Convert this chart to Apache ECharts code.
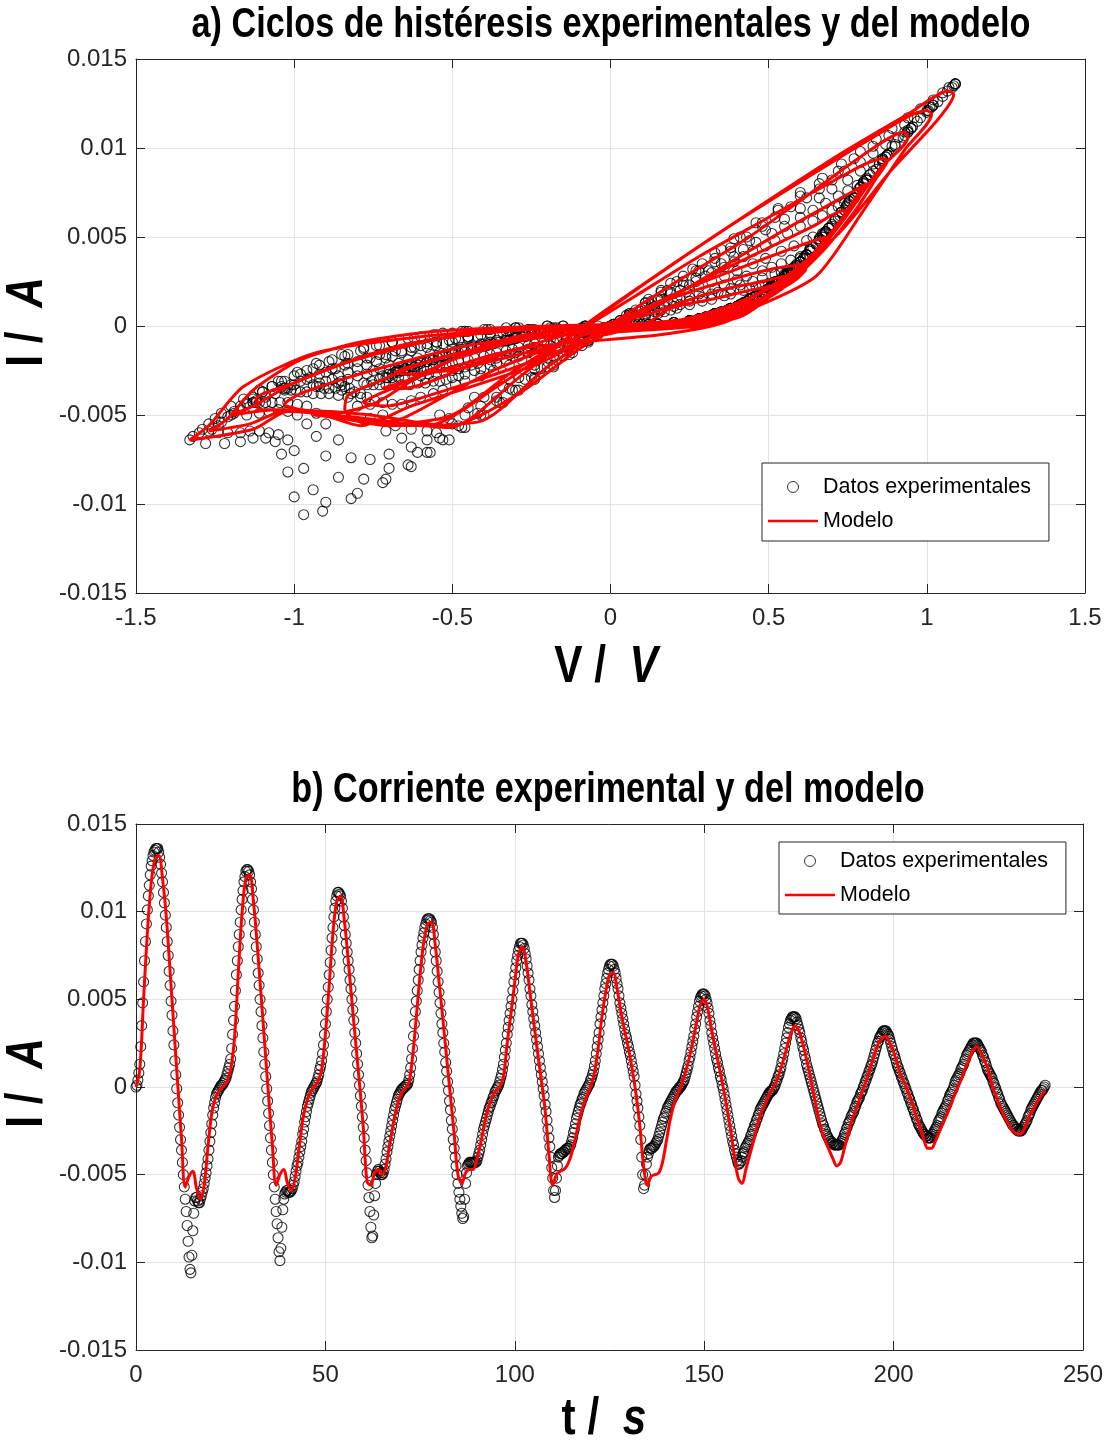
<!DOCTYPE html>
<html>
<head>
<meta charset="utf-8">
<script src="https://cdn.jsdelivr.net/npm/echarts@6/dist/echarts.min.js"></script>
<style>
  html, body { margin: 0; padding: 0; background: #fff; }
  #chart { width: 1110px; height: 1442px; }
</style>
</head>
<body>
<div id="chart"></div>
<script>
// sampling of the recorded data (s)
const expStep = 0.25;
const modelStep = 1;

// applied voltage V at every experimental sample (t = 0, 0.25, ... 240 s)
const vExp = [
  0, .15, .28, .35, .42, .51, .59, .66, .71, .77, .81, .86, .89, .94, .97, 1.005, 1.035, 1.05, 1.065, 1.08, 1.085, 1.09, 1.09, 1.09,
  1.07, 1.05, 1.02, .98, .94, .89, .84, .79, .73, .67, .60, .53, .46, .39, .33, .26, .19, .12, .06, -.01, -.07, -.13, -.18, -.24,
  -.29, -.34, -.40, -.46, -.51, -.57, -.63, -.72, -.82, -.91, -.97, -1.00, -1.02, -1.04, -1.06, -1.09, -1.13, -1.17, -1.22, -1.28, -1.33, -1.32, -1.30, -1.29,
  -1.27, -1.25, -1.23, -1.20, -1.16, -1.11, -1.05, -.99, -.93, -.85, -.78, -.69, -.60, -.53, -.47, -.38, -.29, -.15, .12, .15, .20, .25, .28, .30,
  .33, .37, .40, .42, .45, .51, .56, .60, .65, .69, .73, .77, .80, .83, .86, .90, .93, .955, .98, 1.00, 1.015, 1.02, 1.02, 1.01,
  1.00, .96, .93, .88, .83, .77, .72, .66, .60, .53, .48, .41, .35, .29, .23, .16, .11, .05, -.01, -.07, -.12, -.18, -.24, -.30,
  -.35, -.41, -.47, -.53, -.58, -.64, -.71, -.80, -.90, -.94, -.97, -1.00, -1.02, -1.05, -1.08, -1.11, -1.14, -1.17, -1.21, -1.24, -1.27, -1.26, -1.24, -1.23,
  -1.21, -1.19, -1.17, -1.15, -1.13, -1.10, -1.07, -1.03, -.98, -.94, -.89, -.84, -.79, -.73, -.69, -.62, -.55, -.46, -.39, -.30, -.20, .15, .20, .25,
  .30, .33, .38, .41, .44, .48, .52, .56, .60, .63, .67, .70, .73, .76, .79, .82, .85, .88, .90, .925, .94, .95, .95, .94,
  .93, .91, .87, .83, .79, .74, .70, .66, .62, .57, .52, .48, .43, .38, .33, .27, .21, .16, .11, .06, .01, -.04, -.09, -.15,
  -.20, -.25, -.31, -.36, -.42, -.48, -.54, -.61, -.70, -.78, -.86, -.90, -.93, -.96, -.99, -1.02, -1.05, -1.08, -1.11, -1.15, -1.20, -1.19, -1.17, -1.15,
  -1.13, -1.10, -1.07, -1.04, -1.00, -.96, -.92, -.88, -.83, -.78, -.74, -.69, -.64, -.56, -.50, -.45, -.40, -.33, -.30, -.20, -.15, .08, .12, .20,
  .28, .33, .40, .45, .51, .55, .60, .63, .66, .69, .72, .745, .77, .785, .80, .82, .84, .85, .86, .87, .875, .875, .875, .87,
  .86, .83, .79, .75, .70, .66, .60, .55, .49, .44, .38, .33, .28, .23, .18, .13, .08, .03, -.02, -.07, -.12, -.17, -.22, -.27,
  -.32, -.36, -.41, -.46, -.50, -.55, -.58, -.63, -.70, -.76, -.82, -.86, -.90, -.93, -.96, -.99, -1.02, -1.045, -1.07, -1.09, -1.11, -1.12, -1.13, -1.13,
  -1.12, -1.09, -1.06, -1.03, -1.00, -.96, -.92, -.88, -.84, -.80, -.76, -.71, -.66, -.62, -.60, -.55, -.51, -.45, -.41, -.33, -.26, -.18, -.08, .15,
  .25, .30, .33, .38, .42, .46, .50, .53, .56, .585, .61, .63, .65, .67, .69, .71, .73, .75, .77, .78, .79, .80, .81, .81,
  .81, .80, .78, .75, .72, .68, .64, .60, .55, .51, .46, .42, .39, .35, .31, .27, .23, .19, .15, .11, .07, .03, -.01, -.05,
  -.10, -.14, -.19, -.24, -.29, -.34, -.40, -.45, -.51, -.58, -.66, -.71, -.76, -.80, -.83, -.86, -.89, -.915, -.94, -.96, -.98, -.995, -1.01, -1.02,
  -1.03, -1.035, -1.04, -1.01, -.98, -.95, -.90, -.87, -.83, -.77, -.73, -.68, -.63, -.58, -.55, -.49, -.45, -.38, -.32, -.26, -.19, -.08, .10, .20,
  .28, .30, .33, .37, .41, .44, .48, .51, .54, .57, .60, .62, .64, .66, .68, .70, .71, .725, .74, .745, .75, .755, .755, .755,
  .74, .72, .70, .67, .64, .60, .56, .52, .49, .45, .42, .39, .36, .32, .30, .27, .25, .22, .19, .16, .13, .10, .06, .01,
  -.04, -.09, -.13, -.18, -.24, -.32, -.43, -.54, -.63, -.68, -.72, -.76, -.79, -.82, -.85, -.87, -.89, -.905, -.92, -.93, -.94, -.92, -.90, -.88,
  -.86, -.83, -.80, -.77, -.74, -.71, -.69, -.66, -.63, -.58, -.55, -.53, -.50, -.48, -.45, -.42, -.38, -.34, -.30, -.25, -.24, -.17, -.08, -.04,
  .15, .20, .25, .28, .32, .35, .38, .41, .44, .46, .49, .51, .54, .56, .58, .60, .62, .635, .65, .66, .67, .675, .68, .68,
  .68, .67, .64, .62, .58, .54, .49, .45, .40, .36, .32, .28, .24, .21, .18, .14, .12, .08, .05, .01, -.01, -.06, -.10, -.15,
  -.19, -.24, -.28, -.32, -.37, -.41, -.46, -.49, -.53, -.56, -.60, -.63, -.66, -.69, -.72, -.745, -.77, -.79, -.81, -.825, -.84, -.85, -.86, -.85,
  -.83, -.80, -.77, -.75, -.73, -.70, -.67, -.64, -.61, -.57, -.54, -.50, -.47, -.44, -.41, -.38, -.36, -.33, -.30, -.27, -.24, -.21, -.19, -.17,
  -.14, -.08, .00, .15, .25, .28, .32, .34, .37, .40, .43, .45, .48, .51, .53, .55, .57, .59, .60, .61, .615, .62, .62, .62,
  .62, .60, .57, .54, .51, .48, .43, .40, .36, .33, .28, .25, .20, .17, .14, .11, .08, .05, .02, -.02, -.05, -.09, -.12, -.16,
  -.19, -.22, -.26, -.29, -.33, -.36, -.38, -.41, -.43, -.46, -.48, -.50, -.52, -.54, -.56, -.585, -.61, -.635, -.66, -.685, -.71, -.73, -.75, -.77,
  -.78, -.755, -.73, -.71, -.69, -.67, -.65, -.62, -.60, -.58, -.56, -.53, -.50, -.48, -.46, -.42, -.39, -.35, -.32, -.30, -.27, -.22, -.17, -.12,
  .05, .15, .25, .28, .32, .34, .37, .38, .41, .42, .44, .46, .48, .50, .51, .53, .54, .55, .555, .565, .57, .575, .575, .575,
  .575, .56, .54, .52, .48, .45, .41, .38, .34, .32, .29, .25, .22, .20, .16, .14, .11, .09, .05, .04, .00, -.02, -.06, -.08,
  -.12, -.14, -.18, -.20, -.24, -.26, -.30, -.32, -.36, -.38, -.42, -.44, -.46, -.48, -.50, -.525, -.55, -.575, -.60, -.625, -.65, -.67, -.69, -.705,
  -.72, -.70, -.68, -.665, -.65, -.63, -.61, -.58, -.56, -.545, -.53, -.49, -.46, -.44, -.42, -.395, -.37, -.33, -.30, -.25, -.21, -.18, -.14, -.09,
  .15, .25, .28, .30, .32, .33, .35, .38, .40, .41, .42, .44, .45, .47, .48, .49, .50, .505, .51, .515, .52, .525, .525, .525,
  .525, .50, .48, .46, .44, .42, .38, .36, .32, .29, .25, .21, .19, .17, .15, .13, .11, .06, .04, .00, -.02, -.07, -.10, -.14,
  -.17, -.21, -.24, -.26, -.29, -.31, -.33, -.36, -.38, -.40, -.43, -.45, -.48, -.50, -.52, -.54, -.56, -.58, -.60, -.62, -.64, -.655, -.67, -.675,
  -.68, -.655, -.63, -.615, -.60, -.57, -.54, -.52, -.50, -.47, -.44, -.415, -.39, -.36, -.33, -.305, -.28, -.25, -.22, -.18, -.14, -.12, -.09, .00,
  .15
];

// measured current I (A) at the same samples
const iExp = [
  0, .0001, .0004, .0008, .0013, .0023, .0035, .0048, .0060, .0072, .0083, .0093, .0101, .0109, .0115, .0121, .0126, .0129, .0132, .0134, .0135, .0136, .0136, .0136,
  .0134, .0131, .0127, .0122, .0117, .0111, .0105, .0098, .0091, .0083, .0075, .0066, .0058, .0049, .0041, .0032, .0024, .0015, .0007, -.0001, -.0009, -.0016, -.0023, -.0030,
  -.0036, -.0043, -.0050, -.0057, -.0064, -.0071, -.0079, -.0088, -.0097, -.0104, -.0106, -.0096, -.0082, -.0072, -.0065, -.0063, -.0063, -.0065, -.0066, -.0066, -.0064, -.0062, -.0060, -.0058,
  -.0055, -.0052, -.0049, -.0045, -.0041, -.0036, -.0031, -.0026, -.0021, -.0016, -.0012, -.0009, -.0006, -.0004, -.0003, -.0002, -.0001, 0, .0001, .0001, .0002, .0003, .0004, .0005,
  .0007, .0009, .0011, .0013, .0016, .0022, .0030, .0038, .0046, .0055, .0064, .0072, .0080, .0087, .0094, .0101, .0107, .0112, .0117, .0120, .0123, .0124, .0124, .0123,
  .0121, .0117, .0113, .0107, .0101, .0094, .0087, .0080, .0073, .0065, .0058, .0050, .0043, .0035, .0028, .0020, .0013, .0006, -.0001, -.0008, -.0015, -.0022, -.0029, -.0036,
  -.0043, -.0050, -.0057, -.0064, -.0071, -.0078, -.0086, -.0094, -.0099, -.0092, -.0080, -.0070, -.0064, -.0061, -.0060, -.0059, -.0059, -.0060, -.0060, -.0060, -.0059, -.0058, -.0056, -.0054,
  -.0051, -.0048, -.0045, -.0043, -.0040, -.0037, -.0034, -.0031, -.0027, -.0024, -.0020, -.0017, -.0014, -.0011, -.0009, -.0007, -.0005, -.0003, -.0002, -.0001, 0, .0001, .0002, .0003,
  .0005, .0007, .0010, .0012, .0015, .0019, .0024, .0030, .0036, .0043, .0050, .0057, .0064, .0071, .0078, .0085, .0091, .0097, .0102, .0106, .0109, .0111, .0111, .0110,
  .0109, .0106, .0102, .0097, .0092, .0087, .0082, .0077, .0072, .0067, .0061, .0056, .0050, .0044, .0038, .0031, .0025, .0019, .0013, .0007, .0001, -.0005, -.0011, -.0017,
  -.0023, -.0029, -.0036, -.0042, -.0049, -.0056, -.0063, -.0071, -.0080, -.0086, -.0085, -.0073, -.0062, -.0055, -.0050, -.0048, -.0047, -.0048, -.0049, -.0050, -.0050, -.0049, -.0047, -.0044,
  -.0041, -.0037, -.0034, -.0031, -.0028, -.0025, -.0022, -.0019, -.0016, -.0013, -.0011, -.0009, -.0007, -.0005, -.0004, -.0003, -.0002, -.0001, -.0001, 0, 0, .0001, .0001, .0002,
  .0004, .0007, .0011, .0016, .0022, .0029, .0036, .0043, .0049, .0055, .0061, .0067, .0072, .0077, .0081, .0085, .0088, .0091, .0093, .0095, .0096, .0096, .0096, .0095,
  .0094, .0091, .0087, .0082, .0077, .0072, .0066, .0060, .0054, .0048, .0042, .0036, .0031, .0025, .0020, .0014, .0009, .0003, -.0002, -.0008, -.0013, -.0019, -.0024, -.0030,
  -.0035, -.0040, -.0045, -.0050, -.0055, -.0060, -.0064, -.0068, -.0072, -.0075, -.0074, -.0064, -.0055, -.0049, -.0045, -.0044, -.0043, -.0043, -.0043, -.0043, -.0043, -.0043, -.0043, -.0043,
  -.0042, -.0040, -.0038, -.0036, -.0033, -.0030, -.0027, -.0024, -.0022, -.0020, -.0018, -.0016, -.0014, -.0012, -.0011, -.0009, -.0008, -.0006, -.0005, -.0003, -.0002, -.0001, 0, .0001,
  .0003, .0005, .0007, .0010, .0013, .0017, .0021, .0025, .0030, .0034, .0038, .0042, .0046, .0050, .0055, .0060, .0064, .0068, .0072, .0075, .0078, .0080, .0082, .0082,
  .0082, .0081, .0079, .0076, .0073, .0069, .0065, .0061, .0056, .0052, .0047, .0043, .0039, .0035, .0031, .0027, .0023, .0019, .0015, .0011, .0007, .0003, -.0001, -.0005,
  -.0010, -.0014, -.0019, -.0024, -.0029, -.0034, -.0040, -.0046, -.0052, -.0059, -.0063, -.0059, -.0052, -.0045, -.0040, -.0039, -.0038, -.0038, -.0038, -.0037, -.0037, -.0036, -.0036, -.0035,
  -.0035, -.0035, -.0034, -.0033, -.0031, -.0029, -.0026, -.0024, -.0021, -.0018, -.0016, -.0014, -.0012, -.0010, -.0009, -.0007, -.0006, -.0004, -.0003, -.0002, -.0001, 0, .0001, .0002,
  .0004, .0005, .0007, .0009, .0012, .0015, .0019, .0023, .0027, .0031, .0036, .0040, .0044, .0048, .0052, .0056, .0059, .0062, .0065, .0067, .0069, .0070, .0070, .0070,
  .0069, .0067, .0065, .0062, .0059, .0056, .0052, .0048, .0045, .0042, .0039, .0036, .0033, .0030, .0028, .0025, .0023, .0020, .0018, .0015, .0012, .0009, .0006, .0001,
  -.0004, -.0008, -.0012, -.0017, -.0022, -.0030, -.0040, -.0050, -.0058, -.0056, -.0050, -.0044, -.0040, -.0038, -.0036, -.0035, -.0035, -.0035, -.0034, -.0034, -.0033, -.0032, -.0031, -.0030,
  -.0028, -.0026, -.0024, -.0022, -.0020, -.0018, -.0017, -.0015, -.0014, -.0012, -.0011, -.0010, -.0009, -.0008, -.0007, -.0006, -.0005, -.0004, -.0003, -.0002, -.0002, -.0001, 0, 0,
  .0001, .0002, .0003, .0004, .0006, .0008, .0010, .0012, .0015, .0017, .0020, .0023, .0026, .0029, .0033, .0036, .0040, .0043, .0046, .0049, .0051, .0052, .0053, .0053,
  .0053, .0052, .0050, .0048, .0045, .0042, .0038, .0035, .0031, .0028, .0025, .0022, .0019, .0016, .0014, .0011, .0009, .0006, .0004, .0001, -.0001, -.0004, -.0007, -.0010,
  -.0013, -.0016, -.0019, -.0022, -.0025, -.0028, -.0031, -.0033, -.0036, -.0038, -.0040, -.0042, -.0044, -.0044, -.0043, -.0042, -.0040, -.0038, -.0037, -.0035, -.0034, -.0033, -.0032, -.0031,
  -.0030, -.0028, -.0027, -.0025, -.0024, -.0022, -.0021, -.0019, -.0018, -.0016, -.0015, -.0013, -.0012, -.0011, -.0010, -.0009, -.0008, -.0007, -.0006, -.0005, -.0004, -.0003, -.0003, -.0002,
  -.0002, -.0001, 0, .0001, .0003, .0004, .0006, .0007, .0009, .0011, .0014, .0016, .0019, .0022, .0025, .0028, .0031, .0034, .0036, .0038, .0039, .0040, .0040, .0040,
  .0040, .0039, .0037, .0035, .0033, .0031, .0028, .0026, .0023, .0021, .0018, .0016, .0013, .0011, .0009, .0007, .0005, .0003, .0001, -.0001, -.0003, -.0005, -.0007, -.0009,
  -.0011, -.0013, -.0015, -.0017, -.0019, -.0021, -.0022, -.0024, -.0025, -.0027, -.0028, -.0029, -.0030, -.0031, -.0031, -.0032, -.0032, -.0033, -.0033, -.0033, -.0033, -.0033, -.0033, -.0033,
  -.0032, -.0031, -.0030, -.0029, -.0027, -.0026, -.0024, -.0023, -.0021, -.0020, -.0019, -.0017, -.0016, -.0015, -.0014, -.0012, -.0011, -.0009, -.0008, -.0007, -.0006, -.0004, -.0003, -.0002,
  0, .0001, .0003, .0004, .0006, .0007, .0009, .0010, .0012, .0013, .0015, .0017, .0019, .0021, .0023, .0025, .0026, .0028, .0029, .0030, .0031, .0032, .0032, .0032,
  .0032, .0031, .0030, .0029, .0027, .0025, .0023, .0021, .0019, .0018, .0016, .0014, .0012, .0011, .0009, .0008, .0006, .0005, .0003, .0002, 0, -.0001, -.0003, -.0004,
  -.0006, -.0007, -.0009, -.0010, -.0012, -.0013, -.0015, -.0016, -.0018, -.0019, -.0021, -.0022, -.0023, -.0024, -.0025, -.0026, -.0027, -.0027, -.0028, -.0028, -.0029, -.0029, -.0029, -.0029,
  -.0028, -.0027, -.0026, -.0025, -.0024, -.0023, -.0022, -.0020, -.0019, -.0018, -.0017, -.0015, -.0014, -.0013, -.0012, -.0011, -.0010, -.0008, -.0007, -.0005, -.0004, -.0003, -.0002, -.0001,
  .0001, .0003, .0004, .0005, .0006, .0007, .0008, .0010, .0011, .0012, .0013, .0015, .0016, .0018, .0019, .0020, .0021, .0022, .0023, .0024, .0025, .0025, .0025, .0025,
  .0025, .0024, .0023, .0022, .0021, .0020, .0018, .0017, .0015, .0014, .0012, .0010, .0009, .0008, .0007, .0006, .0005, .0003, .0002, 0, -.0001, -.0003, -.0004, -.0006,
  -.0007, -.0009, -.0010, -.0011, -.0012, -.0013, -.0014, -.0015, -.0016, -.0017, -.0018, -.0019, -.0020, -.0021, -.0022, -.0022, -.0023, -.0024, -.0024, -.0025, -.0025, -.0025, -.0025, -.0025,
  -.0024, -.0023, -.0022, -.0021, -.0020, -.0019, -.0017, -.0016, -.0015, -.0013, -.0012, -.0011, -.0010, -.0009, -.0008, -.0007, -.0006, -.0005, -.0004, -.0003, -.0002, -.0002, -.0001, 0,
  .0001
];

// model current (A), one value per second (t = 0 ... 240 s)
const iModel = [
  0, .0010, .0050, .0088, .0116, .0130, .0132, .0119, .0097, .0066, .0034, .0002,
  -.0029, -.0057, -.0051, -.0048, -.0058, -.0064, -.0056, -.0034, -.0015, -.0006, -.0002, 0,
  .0003, .0010, .0028, .0065, .0099, .0119, .0121, .0106, .0081, .0053, .0024, -.0005,
  -.0033, -.0056, -.0050, -.0047, -.0055, -.0059, -.0052, -.0036, -.0019, -.0009, -.0003, 0,
  .0003, .0010, .0030, .0058, .0088, .0106, .0109, .0095, .0073, .0049, .0025, .0002,
  -.0023, -.0054, -.0056, -.0049, -.0047, -.0050, -.0045, -.0032, -.0020, -.0010, -.0004, -.0001,
  .0002, .0017, .0040, .0064, .0083, .0093, .0094, .0081, .0060, .0039, .0017, -.0005,
  -.0027, -.0050, -.0055, -.0049, -.0047, -.0047, -.0041, -.0032, -.0021, -.0012, -.0006, -.0002,
  0, .0006, .0025, .0042, .0060, .0076, .0080, .0071, .0054, .0037, .0020, .0004,
  -.0013, -.0038, -.0056, -.0050, -.0048, -.0047, -.0044, -.0038, -.0029, -.0019, -.0011, -.0005,
  0, .0008, .0022, .0040, .0054, .0064, .0065, .0056, .0043, .0032, .0022, .0010,
  -.0004, -.0022, -.0045, -.0056, -.0051, -.0050, -.0049, -.0043, -.0031, -.0019, -.0010, -.0004,
  .0001, .0008, .0016, .0026, .0037, .0047, .0050, .0044, .0032, .0021, .0011, 0,
  -.0012, -.0025, -.0040, -.0052, -.0055, -.0047, -.0039, -.0031, -.0022, -.0015, -.0010, -.0005,
  -.0001, .0003, .0009, .0016, .0024, .0031, .0035, .0032, .0025, .0016, .0006, -.0005,
  -.0016, -.0025, -.0031, -.0036, -.0041, -.0045, -.0043, -.0035, -.0027, -.0019, -.0013, -.0007,
  -.0001, .0005, .0012, .0019, .0025, .0028, .0029, .0025, .0020, .0013, .0006, .0002,
  -.0004, -.0010, -.0017, -.0023, -.0030, -.0035, -.0035, -.0031, -.0026, -.0021, -.0016, -.0011,
  -.0005, 0, .0005, .0011, .0016, .0021, .0023, .0020, .0015, .0010, .0001, -.0005,
  -.0011, -.0016, -.0020, -.0024, -.0026, -.0027, -.0026, -.0021, -.0016, -.0012, -.0008, -.0005,
  -.0002
];

// axis ranges and tick spacing
const vAxis = { min: -1.5, max: 1.5, interval: 0.5 };
const tAxis = { min: 0, max: 250, interval: 50 };
const iAxis = { min: -0.015, max: 0.015, interval: 0.005 };

const titleA = 'a) Ciclos de histéresis experimentales y del modelo';
const titleB = 'b) Corriente experimental y del modelo';
const expName = 'Datos experimentales';
const modelName = 'Modelo';

// pairs for the two panels
const expIV = vExp.map((v, k) => [v, iExp[k]]);
const modelIV = iModel.map((c, k) => [vExp[Math.round(k * modelStep / expStep)], c]);
const expIT = iExp.map((c, k) => [k * expStep, c]);
const modelIT = iModel.map((c, k) => [k * modelStep, c]);

const FONT = '"Liberation Sans", Arial, Helvetica, sans-serif';
const AX = '#262626';

function fmt(v) {
  return String(+v.toFixed(3));
}

function xAxes(grid, range) {
  const base = {
    type: 'value', gridIndex: grid, min: range.min, max: range.max, interval: range.interval,
    axisLine: { show: true, onZero: false, lineStyle: { color: AX, width: 1 } },
    axisTick: { show: true, inside: true, length: 9, lineStyle: { color: AX, width: 1 } }
  };
  return [
    Object.assign({}, base, {
      position: 'bottom',
      axisLabel: { fontFamily: FONT, fontSize: 24, color: AX, margin: 13, formatter: fmt },
      splitLine: { show: true, lineStyle: { color: '#e3e3e3', width: 1 } }
    }),
    Object.assign({}, base, {
      position: 'top', axisLabel: { show: false }, splitLine: { show: false }
    })
  ];
}

function yAxes(grid, range) {
  const base = {
    type: 'value', gridIndex: grid, min: range.min, max: range.max, interval: range.interval,
    axisLine: { show: true, onZero: false, lineStyle: { color: AX, width: 1 } },
    axisTick: { show: true, inside: true, length: 9, lineStyle: { color: AX, width: 1 } }
  };
  return [
    Object.assign({}, base, {
      position: 'left',
      axisLabel: { fontFamily: FONT, fontSize: 24, color: AX, margin: 9, formatter: fmt },
      splitLine: { show: true, lineStyle: { color: '#e3e3e3', width: 1 } }
    }),
    Object.assign({}, base, {
      position: 'right', axisLabel: { show: false }, splitLine: { show: false }
    })
  ];
}

function legendAt(left, top, padding) {
  return {
    left: left, top: top, orient: 'vertical',
    backgroundColor: '#fff', borderColor: AX, borderWidth: 1,
    padding: padding, itemGap: 12, itemWidth: 50, itemHeight: 11,
    textStyle: { fontFamily: FONT, fontSize: 21.5, color: '#000' },
    selectedMode: false,
    data: [
      { name: expName, icon: 'circle',
        itemStyle: { color: 'rgba(0,0,0,0)', borderColor: '#000', borderWidth: 1 } },
      { name: modelName, icon: 'path://M0,0L50,0L50,2.6L0,2.6Z',
        itemStyle: { color: '#ff0000', borderWidth: 0 } }
    ]
  };
}

function expSeries(xi, yi, data) {
  return {
    name: expName, type: 'scatter', xAxisIndex: xi, yAxisIndex: yi, data: data,
    symbol: 'circle', symbolSize: 10, large: false,
    itemStyle: { color: 'rgba(0,0,0,0)', borderColor: '#000', borderWidth: 1.1 },
    emphasis: { disabled: true }, z: 2
  };
}

function modelSeries(xi, yi, data, smooth) {
  return {
    name: modelName, type: 'line', xAxisIndex: xi, yAxisIndex: yi, data: data,
    showSymbol: false, symbol: 'none', smooth: smooth,
    lineStyle: { color: '#ff0000', width: 3 }, itemStyle: { color: '#ff0000' },
    emphasis: { disabled: true }, z: 3
  };
}

// bold condensed text drawn as graphic (titles and axis names)
function label(x, y, text, size, rotation, italicPart) {
  const rich = {
    n: { fontFamily: FONT, fontWeight: 'bold', fontSize: size, fill: '#000' },
    u: { fontFamily: FONT, fontWeight: 'bold', fontStyle: 'italic', fontSize: size, fill: '#000' }
  };
  return {
    type: 'text', x: x, y: y, rotation: rotation || 0, scaleX: 0.815, z: 10,
    style: {
      text: italicPart ? '{n|' + text + '}{u|' + italicPart + '}' : '{n|' + text + '}',
      rich: rich, align: 'center', verticalAlign: 'middle', fill: '#000'
    }
  };
}

const chart = echarts.init(document.getElementById('chart'), null, { renderer: 'canvas' });

chart.setOption({
  animation: false,
  backgroundColor: '#fff',
  grid: [
    { left: 136, top: 59, width: 949, height: 534, containLabel: false, outerBoundsMode: 'none' },
    { left: 136, top: 824, width: 947, height: 526, containLabel: false, outerBoundsMode: 'none' }
  ],
  xAxis: [].concat(xAxes(0, vAxis), xAxes(1, tAxis)),
  yAxis: [].concat(yAxes(0, iAxis), yAxes(1, iAxis)),
  legend: [
    legendAt(762, 463, [13, 18, 9, 6]),
    legendAt(779, 842, [8, 18, 8, 6])
  ],
  graphic: [
    label(611, 25, titleA, 42),
    label(608, 790, titleB, 42),
    label(606, 668, 'V /  ', 52, 0, 'V'),
    label(604, 1420, 't /  ', 52, 0, 's'),
    label(28, 322, 'I /  ', 52, Math.PI / 2, 'A'),
    label(28, 1083, 'I /  ', 52, Math.PI / 2, 'A')
  ],
  series: [
    expSeries(0, 0, expIV),
    modelSeries(0, 0, modelIV, 0.25),
    expSeries(2, 2, expIT),
    modelSeries(2, 2, modelIT, 0.35)
  ]
});
</script>
</body>
</html>
